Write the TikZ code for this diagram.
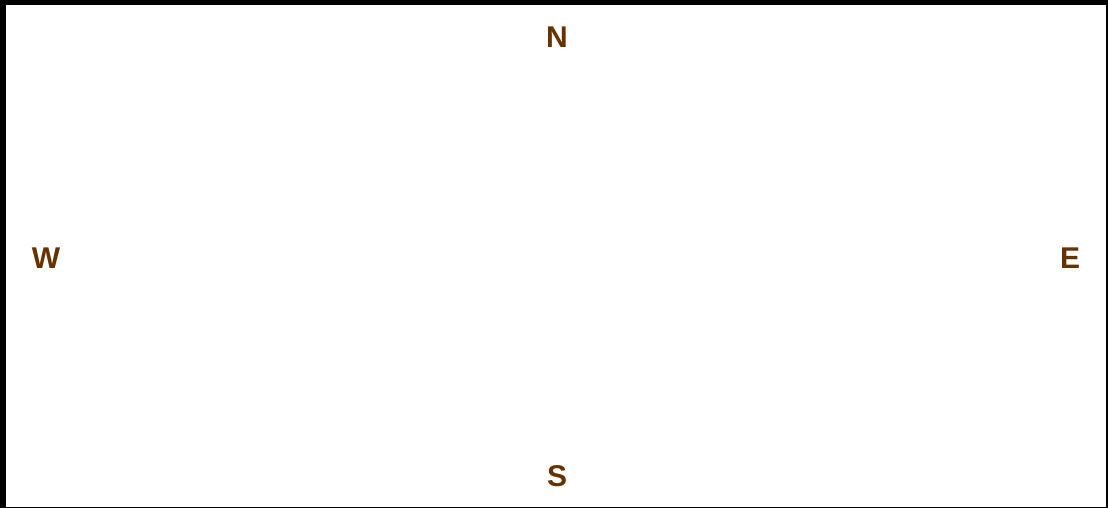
\documentclass[tikz,border=0pt]{standalone}
\usepackage{fontspec}
\setmainfont{Liberation Sans}
\definecolor{dirbrown}{HTML}{663300}
\begin{document}
\begin{tikzpicture}[x=1pt,y=-1pt,
  dirlabel/.style={font=\fontsize{30}{30}\selectfont\bfseries, text=dirbrown, inner sep=0pt, anchor=center}]
\useasboundingbox (0,0) rectangle (1108,508);
\fill[white] (0,0) rectangle (1108,508);
\fill[black] (0,0) rectangle (6,508);
\fill[black] (0,0) rectangle (1108,5);
\fill[black] (1106,0) rectangle (1108,508);
\fill[black] (0,506.5) rectangle (1108,508);
\node[dirlabel] (n) at (557,37) {N};
\node[dirlabel] (s) at (557,476) {S};
\node[dirlabel] (w) at (46,258) {W};
\node[dirlabel] (e) at (1070,258) {E};
\end{tikzpicture}
\end{document}
